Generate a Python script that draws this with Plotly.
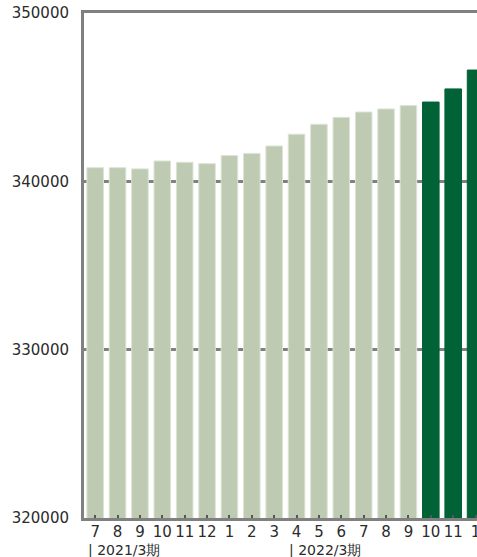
import plotly.graph_objects as go

months = ["7", "8", "9", "10", "11", "12", "1", "2", "3", "4", "5", "6", "7", "8", "9", "10", "11", "1"]
values = [340810, 340810, 340740, 341210, 341130, 341050, 341530, 341660, 342100,
          342800, 343390, 343800, 344120, 344300, 344500, 344710, 345490, 346610]
is_forecast = [False] * 15 + [True] * 3
period_labels = ["2021/3期", "2022/3期"]
period_start_idx = [0, 9]

light = "#BECAB2"
light_edge = "#DCE4D6"
dark = "#006236"

x_idx = list(range(len(months)))
colors = [dark if f else light for f in is_forecast]
edges = [dark if f else light_edge for f in is_forecast]

fig = go.Figure(go.Bar(
    x=x_idx, y=values, width=0.74,
    marker=dict(color=colors, line=dict(color=edges, width=1)),
    hoverinfo="skip",
))

font_family = "DejaVu Sans"
fig.update_layout(
    width=477, height=557,
    margin=dict(l=84, r=0, t=13, b=39, autoexpand=False),
    paper_bgcolor="white", plot_bgcolor="white",
    showlegend=False,
    font=dict(family=font_family, size=14, color="#2b2b2b"),
)
fig.update_xaxes(
    range=[-0.5, -0.5 + (477 - 84) / 22.375],
    tickmode="array", tickvals=x_idx, ticktext=months,
    showgrid=False, zeroline=False, automargin=False,
    showline=True, linecolor="#808080", linewidth=3, mirror=True,
    ticks="inside", tickson="boundaries", ticklen=3, tickwidth=2, tickcolor="#555555",
    tickfont=dict(size=15, color="#2b2b2b"),
    ticklabeloverflow="allow", ticklabelstandoff=-2,
    fixedrange=True,
)
fig.update_yaxes(
    range=[320000, 350000], tickvals=[320000, 330000, 340000, 350000],
    tickformat="d", automargin=False,
    showgrid=True, gridcolor="#808080", gridwidth=3,
    zeroline=False,
    showline=True, linecolor="#808080", linewidth=3,
    ticks="", ticklabelstandoff=9,
    tickfont=dict(size=15, color="#2b2b2b"),
    fixedrange=True,
)

for lab, idx in zip(period_labels, period_start_idx):
    fig.add_annotation(
        x=idx - 0.43, xref="x", y=(518 - 550) / 505, yref="paper",
        text="| " + lab, showarrow=False, xanchor="left", yanchor="middle",
        font=dict(size=14, color="#2b2b2b", family=font_family),
    )

fig.write_html(
    "out.html",
    config={"displayModeBar": False},
    post_script="document.body.style.margin='0';document.body.style.overflow='hidden';",
)
